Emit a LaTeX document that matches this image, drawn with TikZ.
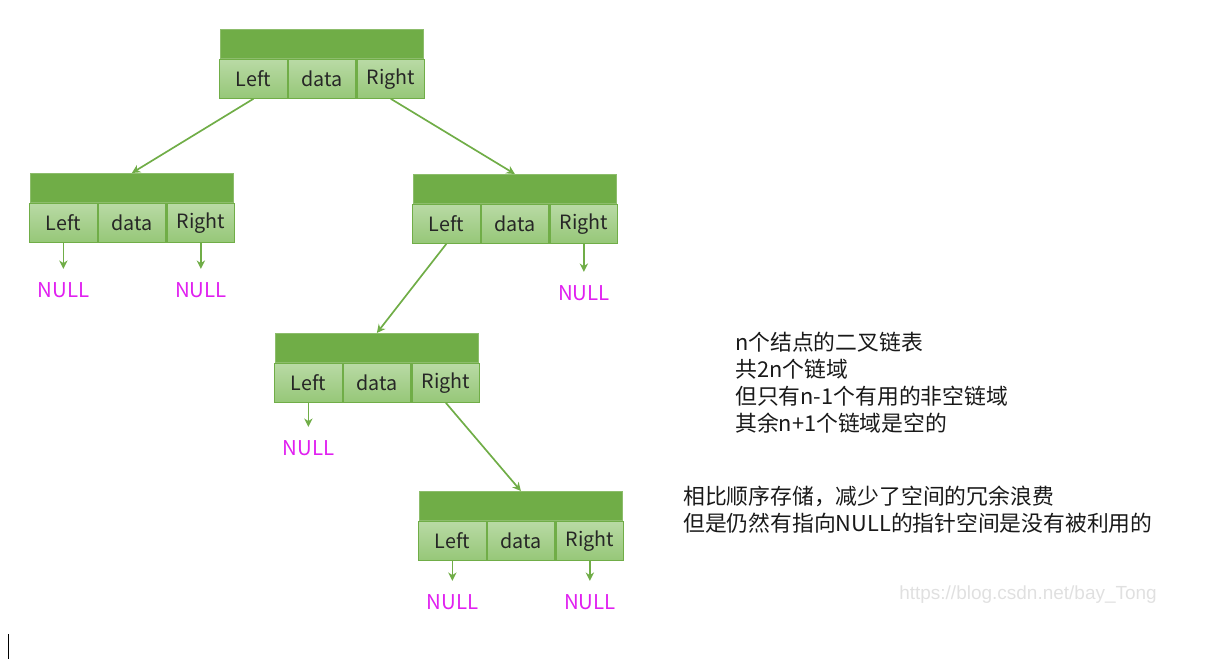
\documentclass[tikz,border=0pt]{standalone}
\usepackage{fontspec}
\setmainfont{Noto Sans CJK SC}
\newfontfamily\wmfont{Liberation Sans}
\usetikzlibrary{positioning,arrows.meta}

\definecolor{hdrgreen}{RGB}{112,173,71}
\definecolor{celltop}{RGB}{185,218,165}
\definecolor{cellbot}{RGB}{150,199,120}
\definecolor{nullpink}{RGB}{224,32,240}

\begin{document}
\begin{tikzpicture}[x=0.025cm, y=-0.025cm,
  hdr/.style={fill=hdrgreen, draw=hdrgreen!80!white, line width=0.5pt,
    minimum width=5.075cm, minimum height=0.725cm, inner sep=0pt},
  cell/.style={top color=celltop, bottom color=cellbot, draw=hdrgreen,
    line width=0.8pt, minimum width=1.69cm, minimum height=0.975cm,
    inner sep=0pt, text=black!85, font=\fontsize{14}{16}\selectfont},
  link/.style={hdrgreen, line width=1.2pt, -{Stealth[length=6pt,width=6pt]}},
  nullt/.style={text=nullpink, inner sep=0pt, font=\fontsize{14.5}{16}\selectfont},
  note/.style={inner sep=0pt, align=left, text=black!90,
    font=\fontsize{15.5}{19.2}\selectfont},
  wm/.style={inner sep=0pt, text=black!12, font=\wmfont\fontsize{13.5}{16}\selectfont}]
\newcommand*{\bnode}[3]{%
  \node[hdr, anchor=north west] (#1) at (#2,#3) {};
  \node[cell, anchor=north west] (#1l) at ([xshift=-0.025cm]#1.south west) {Left};
  \node[cell, right=0pt of #1l] (#1d) {data};
  \node[cell, right=0pt of #1d] (#1r) {Right};
}%

\useasboundingbox (0,0) rectangle (1219,663);

\bnode{root}{220}{29}
\bnode{lc}{30}{173}
\bnode{rc}{413}{174}
\bnode{rlc}{275}{333}
\bnode{rlrc}{419}{491}

\draw[link] (rootl.south) -- (lc.north);
\draw[link] (rootr.south) -- (rc.north);
\draw[link] (rcl.south) -- (rlc.north);
\draw[link] (rlcr.south) -- (rlrc.north);

\node[nullt, below=0.975cm of lcl] (lcln) {NULL};
\node[nullt, below=0.975cm of lcr] (lcrn) {NULL};
\node[nullt, below=1.025cm of rcr] (rcrn) {NULL};
\node[nullt, below=0.925cm of rlcl] (rlcln) {NULL};
\node[nullt, below=0.825cm of rlrcl] (rlrcln) {NULL};
\node[nullt, below=0.825cm of rlrcr] (rlrcrn) {NULL};

\draw[link, shorten >=0.325cm] (lcl.south) -- (lcln.north);
\draw[link, shorten >=0.325cm] (lcr.south) -- (lcrn.north);
\draw[link, shorten >=0.325cm] (rcr.south) -- (rcrn.north);
\draw[link, shorten >=0.325cm] (rlcl.south) -- (rlcln.north);
\draw[link, shorten >=0.325cm] (rlrcl.south) -- (rlrcln.north);
\draw[link, shorten >=0.325cm] (rlrcr.south) -- (rlrcrn.north);

\node[note, anchor=north west] (sum) at (735,332)
  {n个结点的二叉链表\\共2n个链域\\但只有n-1个有用的非空链域\\其余n+1个链域是空的};
\node[note, anchor=north west] (cmp) at (683,486)
  {相比顺序存储，减少了空间的冗余浪费\\但是仍然有指向NULL的指针空间是没有被利用的};

\node[wm, anchor=west] (mark) at (899,595) {https://blog.csdn.net/bay\_Tong};

\draw[line width=0.6pt] (8,634) -- (8,659);

\end{tikzpicture}
\end{document}
